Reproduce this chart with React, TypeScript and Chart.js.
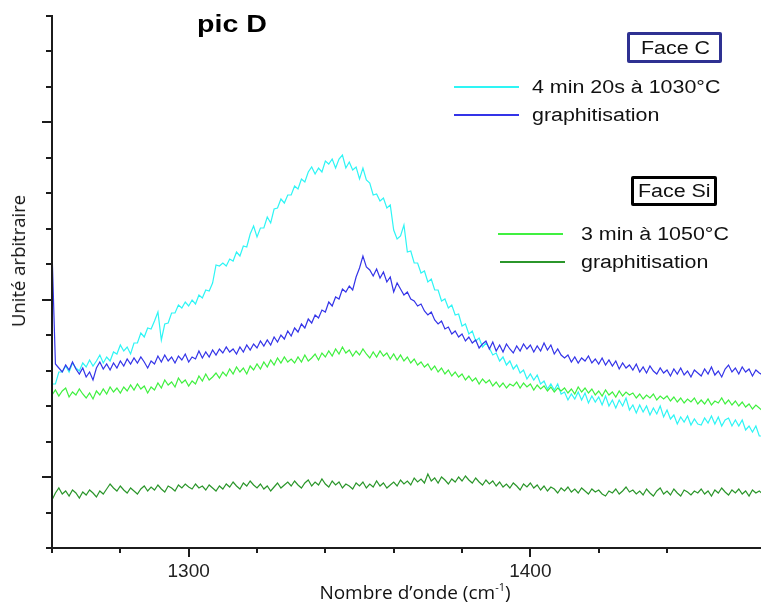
import React, { useEffect, useRef } from "react";
import { Chart, registerables } from "chart.js";

Chart.register(...registerables);

// Wavenumbers (cm-1), one point per cm-1
const wavenumbers = [
  1260, 1261, 1262, 1263, 1264, 1265, 1266, 1267, 1268, 1269,
  1270, 1271, 1272, 1273, 1274, 1275, 1276, 1277, 1278, 1279,
  1280, 1281, 1282, 1283, 1284, 1285, 1286, 1287, 1288, 1289,
  1290, 1291, 1292, 1293, 1294, 1295, 1296, 1297, 1298, 1299,
  1300, 1301, 1302, 1303, 1304, 1305, 1306, 1307, 1308, 1309,
  1310, 1311, 1312, 1313, 1314, 1315, 1316, 1317, 1318, 1319,
  1320, 1321, 1322, 1323, 1324, 1325, 1326, 1327, 1328, 1329,
  1330, 1331, 1332, 1333, 1334, 1335, 1336, 1337, 1338, 1339,
  1340, 1341, 1342, 1343, 1344, 1345, 1346, 1347, 1348, 1349,
  1350, 1351, 1352, 1353, 1354, 1355, 1356, 1357, 1358, 1359,
  1360, 1361, 1362, 1363, 1364, 1365, 1366, 1367, 1368, 1369,
  1370, 1371, 1372, 1373, 1374, 1375, 1376, 1377, 1378, 1379,
  1380, 1381, 1382, 1383, 1384, 1385, 1386, 1387, 1388, 1389,
  1390, 1391, 1392, 1393, 1394, 1395, 1396, 1397, 1398, 1399,
  1400, 1401, 1402, 1403, 1404, 1405, 1406, 1407, 1408, 1409,
  1410, 1411, 1412, 1413, 1414, 1415, 1416, 1417, 1418, 1419,
  1420, 1421, 1422, 1423, 1424, 1425, 1426, 1427, 1428, 1429,
  1430, 1431, 1432, 1433, 1434, 1435, 1436, 1437, 1438, 1439,
  1440, 1441, 1442, 1443, 1444, 1445, 1446, 1447, 1448, 1449,
  1450, 1451, 1452, 1453, 1454, 1455, 1456, 1457, 1458, 1459,
  1460, 1461, 1462, 1463, 1464, 1465, 1466, 1467, 1468,
];

// Face C : 4 min 20s à 1030°C (arbitrary units)
const faceC_4min = [
  164, 164, 176, 176, 182, 176, 185, 180, 177, 185,
  181, 188, 182, 187, 193, 185, 191, 187, 196, 194,
  203, 197, 201, 194, 205, 205, 215, 211, 220, 219,
  227, 236, 208, 224, 225, 235, 235, 243, 240, 246,
  242, 248, 244, 253, 250, 258, 257, 265, 283, 282,
  285, 282, 289, 287, 296, 292, 302, 301, 314, 322,
  311, 320, 320, 331, 325, 339, 340, 349, 345, 353,
  353, 362, 359, 369, 366, 376, 381, 374, 380, 376,
  387, 384, 389, 380, 389, 393, 380, 386, 378, 381,
  369, 380, 368, 365, 353, 354, 347, 350, 340, 343,
  318, 309, 312, 323, 296, 297, 285, 285, 275, 277,
  266, 269, 258, 258, 247, 249, 240, 243, 233, 234,
  222, 224, 214, 217, 207, 210, 201, 205, 200, 193,
  195, 187, 191, 183, 187, 179, 183, 175, 178, 169,
  174, 168, 173, 164, 167, 159, 164, 158, 164, 154,
  156, 148, 154, 149, 156, 148, 155, 145, 152, 146,
  151, 143, 152, 142, 148, 140, 148, 142, 150, 138,
  143, 135, 143, 136, 142, 133, 140, 134, 142, 131,
  138, 129, 133, 124, 131, 126, 132, 123, 129, 124,
  123, 130, 125, 132, 124, 131, 122, 128, 130, 122,
  128, 122, 128, 118, 122, 116, 122, 112, 112,
];

// Face C : graphitisation
const faceC_graph = [
  298, 184, 180, 176, 183, 178, 186, 179, 174, 180,
  171, 176, 168, 180, 186, 179, 184, 178, 185, 180,
  187, 182, 189, 184, 190, 185, 191, 186, 180, 187,
  184, 192, 186, 193, 187, 191, 185, 192, 188, 194,
  186, 191, 189, 197, 190, 196, 191, 198, 193, 199,
  195, 201, 196, 199, 194, 201, 196, 203, 198, 204,
  200, 207, 202, 208, 203, 211, 206, 213, 209, 217,
  212, 220, 216, 224, 220, 229, 225, 233, 230, 238,
  236, 246, 242, 251, 249, 259, 256, 262, 258, 271,
  280, 292, 281, 278, 272, 279, 270, 276, 266, 271,
  256, 265, 259, 253, 256, 249, 247, 242, 244, 237,
  233, 236, 228, 224, 227, 219, 221, 214, 217, 211,
  214, 207, 211, 205, 208, 200, 204, 207, 199, 206,
  197, 203, 196, 204, 199, 195, 202, 197, 204, 199,
  203, 196, 202, 197, 205, 198, 203, 194, 199, 193,
  190, 193, 186, 191, 185, 190, 187, 192, 185, 189,
  184, 190, 183, 188, 182, 187, 179, 185, 180, 183,
  178, 184, 176, 181, 175, 182, 177, 174, 180, 175,
  178, 172, 179, 174, 180, 173, 177, 171, 178, 175,
  172, 179, 174, 181, 173, 177, 171, 179, 183, 176,
  180, 174, 181, 176, 179, 172, 178, 175, 173,
];

// Face Si : 3 min à 1050°C
const faceSi_3min = [
  153, 158, 152, 157, 160, 151, 156, 153, 159, 154,
  150, 155, 149, 157, 153, 159, 154, 161, 156, 160,
  155, 161, 157, 163, 158, 164, 159, 162, 155, 161,
  158, 165, 160, 168, 163, 166, 161, 170, 165, 168,
  162, 167, 164, 172, 167, 174, 168, 171, 175, 170,
  176, 172, 179, 174, 181, 176, 180, 174, 182, 178,
  184, 179, 186, 181, 188, 183, 190, 185, 191, 186,
  189, 185, 191, 186, 193, 187, 190, 194, 188, 195,
  191, 197, 192, 199, 194, 201, 195, 198, 192, 197,
  193, 199, 194, 190, 196, 191, 197, 192, 195, 189,
  194, 188, 193, 187, 191, 185, 189, 183, 186, 181,
  184, 178, 182, 176, 180, 174, 178, 172, 176, 171,
  174, 168, 172, 167, 170, 164, 169, 165, 168, 162,
  166, 161, 165, 160, 164, 162, 166, 160, 165, 161,
  164, 158, 163, 159, 162, 157, 161, 156, 160, 157,
  160, 155, 159, 154, 161, 156, 160, 155, 159, 153,
  157, 152, 158, 153, 156, 151, 157, 152, 156, 153,
  155, 150, 154, 149, 153, 150, 154, 148, 152, 149,
  152, 147, 151, 146, 150, 145, 149, 146, 150, 144,
  148, 144, 149, 143, 147, 145, 150, 144, 148, 143,
  147, 142, 146, 141, 144, 139, 143, 140, 137,
];

// Face Si : graphitisation
const faceSi_graph = [
  48, 55, 60, 54, 57, 52, 58, 55, 50, 56,
  53, 58, 55, 51, 57, 54, 59, 64, 60, 57,
  62, 58, 55, 60, 57, 54, 59, 62, 57, 61,
  58, 63, 59, 56, 62, 60, 57, 63, 60, 64,
  61, 59, 64, 60, 62, 58, 63, 60, 57, 62,
  59, 64, 61, 66, 62, 59, 65, 62, 67, 63,
  60, 64, 59, 62, 57, 61, 65, 60, 63, 66,
  62, 67, 63, 60, 65, 68, 62, 66, 63, 69,
  64, 61, 67, 63, 66, 60, 64, 62, 59, 65,
  62, 66, 60, 64, 61, 67, 62, 65, 60, 63,
  66, 62, 68, 64, 67, 63, 70, 66, 69, 65,
  74, 67, 70, 65, 71, 68, 64, 69, 66, 71,
  67, 72, 68, 65, 70, 66, 63, 68, 64, 67,
  62, 66, 61, 64, 60, 65, 62, 58, 64, 61,
  65, 60, 63, 58, 62, 57, 61, 59, 55, 60,
  57, 61, 56, 59, 55, 60, 57, 54, 59, 56,
  58, 54, 52, 57, 55, 59, 54, 57, 61, 56,
  58, 54, 57, 53, 59, 55, 52, 57, 60, 54,
  57, 53, 59, 55, 52, 58, 56, 53, 57, 55,
  59, 54, 57, 52, 58, 55, 60, 56, 53, 58,
  55, 59, 54, 57, 52, 58, 55, 57, 54,
];

const xLabelled = [1300, 1400];
const xMin = 1260;
const xMax = 1467.5;
const xStep = 20;
const yMax = 532;
const yTickCount = 15;
const yMajorTicks = [2, 7, 12];

const COLORS = {
  cyan: "#2ef5f5",
  blue: "#3434e8",
  green: "#40f040",
  darkGreen: "#2b962b",
};

const toPoints = (vals: number[]) => vals.map((v, i) => ({ x: wavenumbers[i], y: v }));

const axesPlugin = {
  id: "customAxes",
  afterDraw(chart: any) {
    const { ctx, chartArea, scales } = chart;
    const xs = scales.x;
    const ys = scales.y;
    ctx.save();
    ctx.strokeStyle = "#1c1c1c";
    ctx.lineWidth = 2;
    ctx.beginPath();
    ctx.moveTo(chartArea.left, ys.getPixelForValue(yMax) - 1);
    ctx.lineTo(chartArea.left, chartArea.bottom);
    ctx.moveTo(chartArea.left - 6, chartArea.bottom);
    ctx.lineTo(chartArea.right, chartArea.bottom);
    for (let k = 0; k <= yTickCount; k++) {
      const y = Math.round(ys.getPixelForValue((k * yMax) / yTickCount));
      const len = yMajorTicks.includes(k) ? 10 : 6;
      ctx.moveTo(chartArea.left - len, y);
      ctx.lineTo(chartArea.left, y);
    }
    xs.ticks.forEach((t: any) => {
      if (Math.abs((t.value - xMin) % xStep) > 1e-6) return;
      const x = Math.round(xs.getPixelForValue(t.value));
      const len = xLabelled.includes(t.value) ? 9 : 5;
      ctx.moveTo(x, chartArea.bottom);
      ctx.lineTo(x, chartArea.bottom + len);
    });
    ctx.stroke();
    ctx.restore();
  },
};

const stretched = (extra: React.CSSProperties = {}): React.CSSProperties => ({
  position: "absolute",
  whiteSpace: "nowrap",
  transform: "scaleX(1.19)",
  transformOrigin: "left center",
  fontFamily: "'Liberation Sans', Arial, sans-serif",
  color: "#111",
  ...extra,
});

export default function App() {
  const canvasRef = useRef<HTMLCanvasElement | null>(null);

  useEffect(() => {
    const canvas = canvasRef.current;
    if (!canvas) return;
    const chart = new Chart(canvas, {
      type: "line",
      data: {
        datasets: [
          { label: "graphitisation (Face Si)", data: toPoints(faceSi_graph), borderColor: COLORS.darkGreen },
          { label: "3 min à 1050°C", data: toPoints(faceSi_3min), borderColor: COLORS.green },
          { label: "graphitisation (Face C)", data: toPoints(faceC_graph), borderColor: COLORS.blue },
          { label: "4 min 20s à 1030°C", data: toPoints(faceC_4min), borderColor: COLORS.cyan },
        ].map((d) => ({ ...d, borderWidth: 1.2, pointRadius: 0, tension: 0, fill: false })),
      },
      options: {
        responsive: false,
        animation: false,
        devicePixelRatio: 1,
        layout: { padding: { left: 52, top: 16, right: 0, bottom: 0 } },
        plugins: { legend: { display: false }, tooltip: { enabled: false }, title: { display: false } },
        scales: {
          x: {
            type: "linear",
            min: xMin,
            max: xMax,
            grid: { display: false, drawTicks: true, tickLength: 8 },
            border: { display: false },
            ticks: {
              stepSize: xStep,
              autoSkip: false,
              maxRotation: 0,
              padding: 4,
              color: "#222",
              font: { family: "'Liberation Sans', Arial, sans-serif", size: 19 },
              callback: (v: any) => (xLabelled.includes(Number(v)) ? String(v) : ""),
            },
            afterFit: (scale: any) => {
              scale.height = 55;
              scale.paddingLeft = 0;
              scale.paddingRight = 0;
            },
          },
          y: {
            type: "linear",
            display: false,
            min: 0,
            max: yMax,
          },
        },
      },
      plugins: [axesPlugin],
    });
    return () => chart.destroy();
  }, []);

  return (
    <div style={{ position: "absolute", left: 0, top: 0, width: 761, height: 603, background: "#fff", overflow: "hidden" }}>
      <canvas ref={canvasRef} width={761} height={603} style={{ display: "block" }} />
      <div style={stretched({ left: 197, top: 12, fontSize: 24, lineHeight: "24px", fontWeight: 700, color: "#000" })}>pic D</div>

      <div style={{ position: "absolute", left: 627, top: 32, width: 95, height: 31, boxSizing: "border-box", border: "3px solid #2e3192", borderRadius: 2 }} />
      <div style={stretched({ left: 641, top: 39, fontSize: 18, lineHeight: "18px" })}>Face C</div>
      <div style={{ position: "absolute", left: 454, top: 86, width: 65, height: 2, background: COLORS.cyan }} />
      <div style={stretched({ left: 532, top: 78, fontSize: 18, lineHeight: "18px" })}>4 min 20s à 1030°C</div>
      <div style={{ position: "absolute", left: 454, top: 114, width: 65, height: 2, background: COLORS.blue }} />
      <div style={stretched({ left: 532, top: 106, fontSize: 18, lineHeight: "18px" })}>graphitisation</div>

      <div style={{ position: "absolute", left: 631, top: 176, width: 86, height: 30, boxSizing: "border-box", border: "3px solid #000", borderRadius: 2 }} />
      <div style={stretched({ left: 638, top: 182, fontSize: 18, lineHeight: "18px" })}>Face Si</div>
      <div style={{ position: "absolute", left: 498, top: 233, width: 65, height: 2, background: COLORS.green }} />
      <div style={stretched({ left: 581, top: 225, fontSize: 18, lineHeight: "18px" })}>3 min à 1050°C</div>
      <div style={{ position: "absolute", left: 500, top: 261, width: 65, height: 2, background: COLORS.darkGreen }} />
      <div style={stretched({ left: 581, top: 253, fontSize: 18, lineHeight: "18px" })}>graphitisation</div>

      <div
        style={{
          position: "absolute",
          left: 18,
          top: 261,
          transform: "translate(-50%, -50%) rotate(-90deg)",
          whiteSpace: "nowrap",
          fontFamily: "'Open Sans', 'Noto Sans', sans-serif",
          fontSize: 18.5,
          lineHeight: "20px",
          color: "#111",
        }}
      >
        Unité arbitraire
      </div>
      <div
        style={{
          position: "absolute",
          left: 415,
          top: 582,
          transform: "translateX(-50%)",
          whiteSpace: "nowrap",
          fontFamily: "'Open Sans', 'Noto Sans', sans-serif",
          fontSize: 19,
          lineHeight: "20px",
          color: "#111",
        }}
      >
        Nombre d’onde (cm<span style={{ fontSize: 11, position: "relative", top: -8 }}>-1</span>)
      </div>
    </div>
  );
}
